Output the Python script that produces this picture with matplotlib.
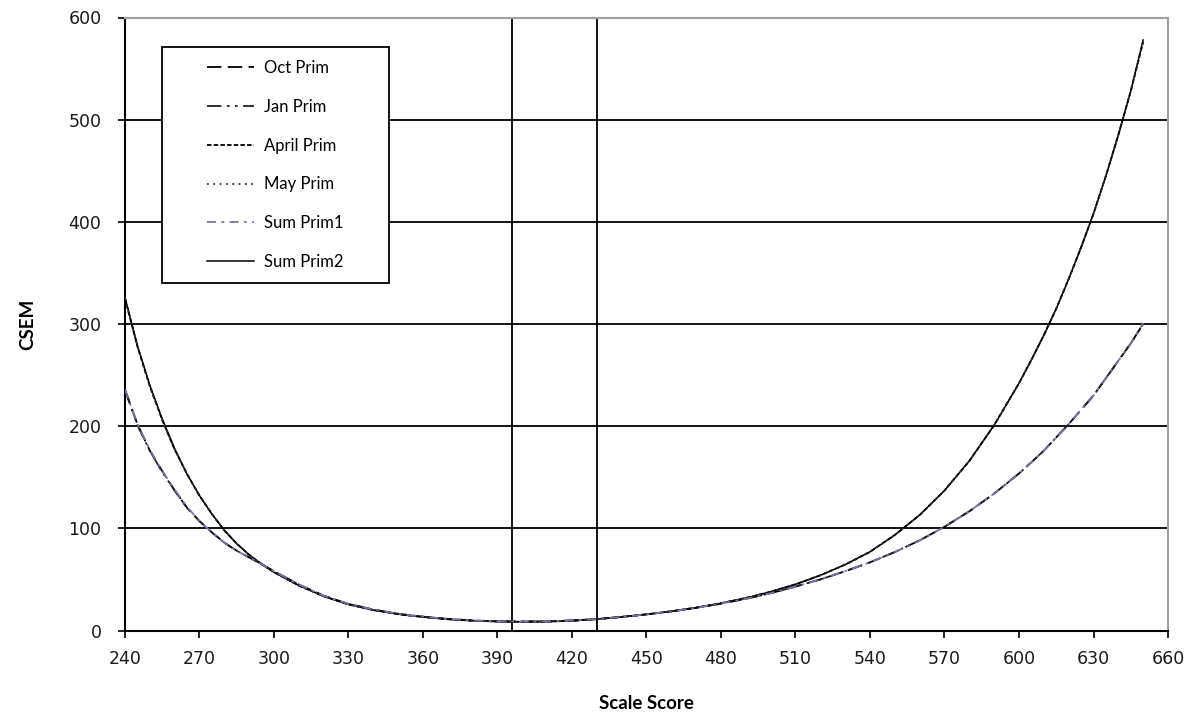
import matplotlib
matplotlib.use("Agg")
import matplotlib.pyplot as plt
from matplotlib.patches import Rectangle

scale_score = [240, 245, 250, 255, 260, 265, 270, 275, 280, 285, 290, 295, 300,
               310, 320, 330, 340, 350, 360, 370, 380, 390, 400, 410, 420, 430, 440,
               450, 460, 470, 480, 490, 500, 510, 520, 530, 540, 550, 560, 570, 580,
               590, 600, 605, 610, 615, 620, 625, 630, 635, 640, 645, 650]

# lower curve group
oct_prim = [236, 202, 176, 156, 137, 120, 107, 96, 86, 78, 71.5, 65, 58,
            45, 34, 26, 20.5, 16.3, 13.5, 11.3, 9.8, 9, 8.8, 9, 9.8, 11.2, 13.3,
            15.8, 18.7, 22.2, 26.3, 31, 36.5, 43, 50, 58, 66.7, 76.8, 88.2, 101.5, 116.7,
            134, 153.7, 164.7, 176, 189, 202, 216, 230, 247, 264, 281, 300]
jan_prim = [235, 201, 176, 155, 137, 120, 107, 96, 86, 78, 71.5, 65, 58,
            45, 34, 26, 20.5, 16.3, 13.5, 11.3, 9.8, 9, 8.8, 9, 9.8, 11.2, 13.3,
            15.8, 18.7, 22.2, 26.3, 31, 36.5, 43, 50, 58, 66.7, 76.8, 88.2, 101.5, 116.7,
            134, 153.7, 164.7, 176, 189, 202, 216, 230, 247, 264, 281, 300]
sum_prim1 = [236, 202, 177, 156, 138, 121, 107, 96, 86, 78, 71.5, 65, 58,
             45, 34, 26, 20.5, 16.3, 13.5, 11.3, 9.8, 9, 8.8, 9, 9.8, 11.2, 13.3,
             15.8, 18.7, 22.2, 26.3, 31, 36.5, 43, 50, 58, 66.7, 76.8, 88.2, 101.5, 116.7,
             134, 153.7, 164.7, 176, 189, 202, 216, 230, 247, 264, 281, 301]
# upper curve group
april_prim = [325, 278, 239, 206, 177, 153, 132, 114, 98, 85, 74, 65, 57,
              44, 33.5, 25.5, 20, 16, 13.2, 11, 9.6, 8.8, 8.5, 8.7, 9.5, 11.1, 13.3,
              15.8, 18.8, 22.4, 26.7, 31.8, 37.9, 45.2, 54, 64.5, 77, 93.5, 113, 137, 166,
              201, 242, 265, 289, 315, 344, 375, 408, 445, 485, 528, 576]
may_prim = [325, 278, 239, 206, 177, 153, 132, 114, 98, 85, 74, 65, 57,
            44, 33.5, 25.5, 20, 16, 13.2, 11, 9.6, 8.8, 8.5, 8.7, 9.5, 11.1, 13.3,
            15.8, 18.8, 22.4, 26.7, 31.8, 37.9, 45.2, 54, 64.5, 77, 93.5, 113, 137, 166,
            201, 242, 265, 289, 315, 344, 375, 408, 445, 485, 528, 577]
sum_prim2 = [326, 279, 240, 207, 178, 153, 132, 114, 98, 85, 74, 65, 57,
             44, 33.5, 25.5, 20, 16, 13.2, 11, 9.6, 8.8, 8.5, 8.7, 9.5, 11.1, 13.3,
             15.8, 18.8, 22.4, 26.7, 31.8, 37.9, 45.2, 54, 64.5, 77, 93.5, 113, 137, 166,
             201, 242, 265, 289, 315, 344, 375, 408, 445, 485, 528, 578]

cut_scores = [396, 430]
x_ticks = [240, 270, 300, 330, 360, 390, 420, 450, 480, 510, 540, 570, 600, 630, 660]
y_ticks = [0, 100, 200, 300, 400, 500, 600]

fig = plt.figure(figsize=(11.9, 7.15), dpi=100)
ax = fig.add_axes([125 / 1190, (715 - 630.5) / 715, 1043 / 1190, 613 / 715])

for yv in y_ticks[1:-1]:
    ax.axhline(yv, color="black", lw=1.3, zorder=1)
for xv in cut_scores:
    ax.axvline(xv, color="black", lw=1.3, zorder=1)

lw = 1.3
ax.plot(scale_score, oct_prim, color="black", lw=lw, dashes=(8, 3.5), label="Oct Prim", zorder=3)
ax.plot(scale_score, jan_prim, color="#222222", lw=lw, dashes=(8, 3, 1.5, 3, 1.5, 3), label="Jan Prim", zorder=3)
ax.plot(scale_score, april_prim, color="black", lw=lw, dashes=(2.5, 1.2), label="April Prim", zorder=3)
ax.plot(scale_score, may_prim, color="#333333", lw=lw, dashes=(1, 2.5), label="May Prim", zorder=3)
ax.plot(scale_score, sum_prim1, color="#8070a8", lw=lw, dashes=(5, 3, 1.5, 3), label="Sum Prim1", zorder=3)
ax.plot(scale_score, sum_prim2, color="black", lw=1.1, label="Sum Prim2", zorder=2)

ax.set_xlim(240, 660)
ax.set_ylim(0, 600)
ax.set_xticks(x_ticks)
ax.set_yticks(y_ticks)
ax.tick_params(labelsize=12.5, labelcolor="#1a1a1a", color="black", length=5, width=1.2,
               direction="out")
ax.tick_params(axis="y", pad=12)
ax.tick_params(axis="x", pad=9)
for s in ["left", "bottom"]:
    ax.spines[s].set_color("black")
    ax.spines[s].set_linewidth(1.5)
for s in ["top", "right"]:
    ax.spines[s].set_color("#a0a0a0")
    ax.spines[s].set_linewidth(1.5)

ax.set_xlabel("Scale Score", fontfamily="Lato", fontweight="bold", fontsize=13.5)
ax.set_ylabel("CSEM", fontfamily="Lato", fontweight="bold", fontsize=13.5)
ax.xaxis.set_label_coords(0.5, -0.105)
ax.yaxis.set_label_coords(-0.085, 0.5)

rx0 = (162 - 125) / 1043
ry0 = (630.5 - 283) / 613
rw = 227 / 1043
rh = 236 / 613
ax.add_patch(Rectangle((rx0, ry0), rw, rh, transform=ax.transAxes, fill=True,
                       facecolor="white", edgecolor="black", lw=1.3, zorder=4))
leg = ax.legend(loc="center", bbox_to_anchor=(rx0 + rw / 2, ry0 + rh / 2), frameon=False,
                prop={"family": "Lato", "size": 12}, handlelength=2.8, handletextpad=0.6,
                labelspacing=1.37)
leg.set_zorder(5)

fig.savefig("out.png", dpi=100, facecolor="white")
